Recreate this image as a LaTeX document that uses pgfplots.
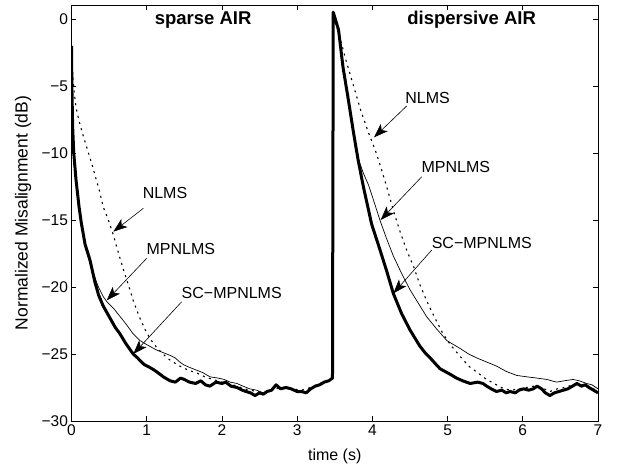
\documentclass[border=0pt]{standalone}
\usepackage{fontspec}
\setmainfont{Liberation Sans}
\usepackage{pgfplots}
\pgfplotsset{compat=1.18}
\usetikzlibrary{arrows.meta}
\begin{document}
\begin{tikzpicture}
\begin{axis}[
  at={(0,0)}, anchor=south west,
  width=526.5pt, height=416pt, scale only axis,
  xmin=0, xmax=7, ymin=-30, ymax=1.045,
  xtick={0,1,2,3,4,5,6,7},
  xticklabels={0,1,2,3,4,5,6,7},
  ytick={-30,-25,-20,-15,-10,-5,0},
  yticklabels={−30,−25,−20,−15,−10,−5,0},
  tick align=inside, major tick length=5pt,
  every tick/.style={black, line width=0.6pt},
  axis line style={line width=0.8pt},
  tick label style={font=\fontsize{15.5}{18}\selectfont},
  xlabel={time (s)}, ylabel={Normalized Misalignment (dB)},
  every axis x label/.style={at={(axis description cs:0.5,-0.084)}, anchor=center, font=\fontsize{16}{19}\selectfont},
  every axis y label/.style={at={(axis description cs:-0.092,0.50)}, rotate=90, anchor=center, font=\fontsize{17.5}{20}\selectfont},
  clip=true,
]
% NLMS (dotted)
\addplot[black, line width=1.1pt, dash pattern=on 2pt off 4.4pt] coordinates {
(0,-2.0)(0.01,-3.5)(0.03,-5.2)(0.06,-6.6)(0.10,-7.6)(0.16,-8.8)(0.22,-9.9)(0.27,-10.8)(0.33,-12.0)(0.38,-13.0)(0.42,-14.0)(0.49,-15.0)(0.556,-16.1)(0.60,-17.0)(0.69,-18.7)(0.76,-19.9)(0.82,-21.0)(0.90,-22.2)(0.98,-23.2)(1.05,-23.9)(1.13,-24.5)(1.2,-24.9)(1.27,-25.3)(1.35,-25.6)(1.44,-25.9)(1.55,-26.2)(1.66,-26.4)(1.77,-26.7)(1.88,-26.9)(2.0,-27.1)(2.15,-27.3)(2.3,-27.6)(2.46,-27.8)(2.55,-27.9)(2.66,-27.7)(2.78,-27.5)(2.92,-27.6)(3.06,-27.7)(3.18,-27.5)(3.30,-27.2)(3.42,-27.0)(3.47,-26.8)(3.48,0.5)(3.52,-0.5)(3.57,-1.4)(3.65,-3.1)(3.75,-5.0)(3.85,-6.9)(3.95,-8.5)(4.04,-9.8)(4.12,-11.2)(4.19,-12.5)(4.28,-14.3)(4.37,-15.9)(4.46,-17.3)(4.55,-18.5)(4.63,-19.8)(4.72,-21.0)(4.83,-22.3)(4.94,-23.5)(5.05,-24.4)(5.17,-25.2)(5.28,-25.9)(5.40,-26.4)(5.52,-26.9)(5.65,-27.3)(5.75,-27.6)(5.85,-27.7)(5.95,-27.6)(6.05,-27.5)(6.15,-27.4)(6.25,-27.5)(6.36,-27.8)(6.46,-27.6)(6.56,-27.5)(6.66,-27.3)(6.76,-27.3)(6.86,-27.4)(6.94,-27.6)(7.0,-27.8)
};
% MPNLMS (thin)
\addplot[black, line width=0.7pt] coordinates {
(0,-2.0)(0.005,-5)(0.015,-8)(0.03,-10)(0.06,-12)(0.10,-14)(0.13,-15.2)(0.18,-17.0)(0.25,-18.3)(0.35,-19.9)(0.42,-20.7)(0.47,-21.1)(0.56,-21.6)(0.645,-22.2)(0.73,-22.8)(0.82,-23.5)(0.91,-24.0)(1.0,-24.3)(1.13,-24.7)(1.22,-24.9)(1.31,-25.1)(1.38,-25.3)(1.44,-25.6)(1.49,-25.8)(1.57,-26.0)(1.66,-26.2)(1.75,-26.4)(1.84,-26.7)(1.95,-26.8)(2.03,-26.9)(2.11,-27.1)(2.2,-27.2)(2.28,-27.4)(2.37,-27.6)(2.46,-27.7)(2.55,-27.9)(2.6,-27.8)(2.66,-27.7)(2.72,-27.3)(2.78,-27.6)(2.85,-27.5)(2.92,-27.6)(3.0,-27.8)(3.06,-27.8)(3.12,-27.9)(3.18,-27.6)(3.24,-27.4)(3.30,-27.3)(3.36,-27.1)(3.42,-27.0)(3.47,-26.8)(3.48,0.5)(3.55,-0.8)(3.61,-3.6)(3.68,-6.0)(3.75,-8.5)(3.81,-10.4)(3.88,-11.5)(3.95,-12.4)(4.02,-13.6)(4.10,-15.0)(4.19,-16.4)(4.28,-17.7)(4.39,-19.0)(4.50,-20.2)(4.61,-21.2)(4.72,-22.2)(4.85,-23.1)(4.99,-24.0)(5.08,-24.3)(5.17,-24.6)(5.28,-25.0)(5.39,-25.3)(5.52,-25.6)(5.65,-25.9)(5.78,-26.3)(5.92,-26.6)(6.05,-26.7)(6.19,-26.8)(6.32,-26.9)(6.45,-27.1)(6.55,-27.0)(6.67,-26.9)(6.75,-27.0)(6.85,-27.2)(6.92,-27.3)(7.0,-27.6)
};
% SC-MPNLMS (thick)
\addplot[black, line width=3pt, line join=round] coordinates {
(0,-2.0)(0.005,-5)(0.015,-8)(0.03,-10)(0.06,-12)(0.10,-14)(0.13,-15.2)(0.18,-16.8)(0.246,-18.0)(0.31,-19.6)(0.36,-20.6)(0.42,-21.4)(0.51,-22.3)(0.58,-23.0)(0.645,-23.5)(0.72,-24.2)(0.82,-25.0)(0.88,-25.3)(0.93,-25.6)(0.97,-25.8)(1.04,-26.0)(1.10,-26.2)(1.15,-26.4)(1.22,-26.7)(1.31,-27.0)(1.38,-27.1)(1.45,-26.8)(1.50,-26.9)(1.57,-27.1)(1.65,-27.2)(1.72,-27.0)(1.78,-27.3)(1.84,-27.4)(1.92,-27.1)(2.0,-27.2)(2.05,-27.1)(2.12,-27.4)(2.2,-27.5)(2.27,-27.7)(2.32,-27.8)(2.38,-27.9)(2.44,-28.1)(2.5,-27.9)(2.55,-28.0)(2.6,-27.8)(2.66,-27.7)(2.72,-27.3)(2.78,-27.6)(2.85,-27.5)(2.92,-27.6)(3.0,-27.8)(3.06,-27.8)(3.12,-27.9)(3.18,-27.6)(3.24,-27.4)(3.30,-27.3)(3.36,-27.1)(3.42,-27.0)(3.47,-26.8)(3.48,0.5)(3.55,-0.8)(3.61,-3.6)(3.68,-6.0)(3.75,-8.5)(3.81,-10.5)(3.88,-12.5)(3.99,-15.3)(4.10,-17.2)(4.19,-18.8)(4.28,-20.5)(4.39,-22.0)(4.50,-23.2)(4.63,-24.4)(4.70,-24.9)(4.77,-25.3)(4.85,-25.8)(4.90,-26.1)(5.03,-26.5)(5.12,-26.8)(5.2,-27.0)(5.30,-27.2)(5.4,-27.1)(5.47,-27.2)(5.52,-27.4)(5.58,-27.6)(5.65,-27.8)(5.72,-27.7)(5.78,-27.9)(5.83,-27.8)(5.9,-27.9)(5.95,-27.7)(6.01,-27.6)(6.08,-27.7)(6.14,-27.6)(6.19,-27.4)(6.25,-27.6)(6.30,-27.9)(6.36,-28.1)(6.42,-27.9)(6.48,-27.8)(6.54,-27.7)(6.60,-27.6)(6.66,-27.4)(6.72,-27.2)(6.78,-27.4)(6.83,-27.3)(6.88,-27.5)(6.94,-27.7)(7.0,-27.9)
};
% titles
\node[font=\fontsize{18.5}{21}\selectfont\bfseries] at (axis cs:1.75,-0.1) {sparse AIR};
\node[font=\fontsize{18.5}{21}\selectfont\bfseries] at (axis cs:5.32,-0.07) {dispersive AIR};
% annotations
\begin{scope}[every node/.style={font=\fontsize{16}{19}\selectfont}]
\node at (axis cs:1.243,-12.99) {NLMS};
\node at (axis cs:1.454,-17.2) {MPNLMS};
\node at (axis cs:2.13,-20.47) {SC−MPNLMS};
\node at (axis cs:4.734,-5.9) {NLMS};
\node at (axis cs:5.11,-11.02) {MPNLMS};
\node at (axis cs:5.455,-16.74) {SC−MPNLMS};
\end{scope}
\begin{scope}[-{Stealth[length=14pt,width=10pt,inset=3.5pt]}, line width=0.6pt]
\draw (axis cs:0.955,-14.13) -- (axis cs:0.556,-15.87);
\draw (axis cs:1.0,-17.86) -- (axis cs:0.468,-21.0);
\draw (axis cs:1.465,-21.1) -- (axis cs:0.822,-25.0);
\draw (axis cs:4.457,-6.49) -- (axis cs:4.023,-8.83);
\draw (axis cs:4.657,-11.77) -- (axis cs:4.11,-15.0);
\draw (axis cs:4.79,-17.24) -- (axis cs:4.28,-20.47);
\end{scope}
\end{axis}
\pgfresetboundingbox
\path[use as bounding box] (-71.5pt,-47pt) rectangle (550.5pt,421pt);
\end{tikzpicture}
\end{document}
